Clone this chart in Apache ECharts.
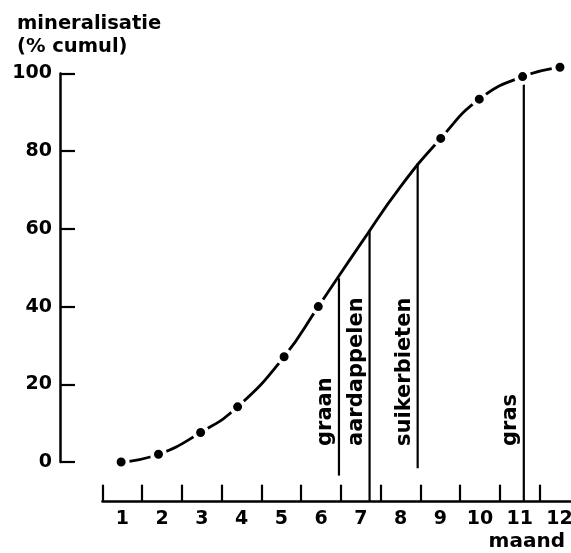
<!DOCTYPE html>
<html>
<head>
<meta charset="utf-8">
<script src="https://cdn.jsdelivr.net/npm/echarts@6/dist/echarts.min.js"></script>
<style>
  html, body { margin: 0; padding: 0; background: #fff; overflow: hidden; }
  /* iets breder dan het venster: maand 12 loopt door tot voorbij de rand */
  #myChart { width: 580px; height: 553px; }
</style>
</head>
<body>
<div id="myChart"></div>
<script>
// maanden op de x-as
var maanden = ['1', '2', '3', '4', '5', '6', '7', '8', '9', '10', '11', '12'];
// gemeten punten (positie in maanden zoals getekend, % cumul)
var puntMaand = [0.97, 1.91, 2.97, 3.9, 5.07, 5.93, 9.01, 9.98, 11.07, 12.01];
var puntWaarde = [0, 2, 7.6, 14.2, 27.1, 40, 83.3, 93.4, 99.2, 101.6];
// curve tussen 6 en 9 zonder stip
var curveMaand = [7, 8];
var curveWaarde = [56.2, 70.9];
// oogstmomenten van de gewassen
var gewassen = ['graan', 'aardappelen', 'suikerbieten', 'gras'];
var oogstMaand = [6.45, 7.22, 8.43, 11.1];
var oogstTop = [47.3, 59.7, 76.9, 98];
var oogstBodem = [-3.5, -10.2, -1.6, -10.2];

var font = '"DejaVu Sans", sans-serif';

// lijn door alle punten, gesorteerd op maand
var curveData = [];
for (var i = 0; i < puntMaand.length; i++) {
    curveData.push({ value: [puntMaand[i], puntWaarde[i]] });
}
for (var j = 0; j < curveMaand.length; j++) {
    curveData.push({ value: [curveMaand[j], curveWaarde[j]], symbol: 'none' });
}
curveData.sort(function (a, b) { return a.value[0] - b.value[0]; });

var oogstData = [];
for (var k = 0; k < gewassen.length; k++) {
    oogstData.push([oogstMaand[k], oogstTop[k], oogstBodem[k]]);
}

var myChart = echarts.init(document.getElementById('myChart'));
var option = {
    animation: false,
    title: [
        {
            text: 'mineralisatie\n(% cumul)',
            left: 12, top: 7,
            textStyle: { fontFamily: font, fontSize: 19.5, fontWeight: 'bold', color: '#000', lineHeight: 23 }
        },
        {
            text: 'maand',
            right: 10, top: 527,
            textStyle: { fontFamily: font, fontSize: 20, fontWeight: 'bold', color: '#000' }
        }
    ],
    grid: { left: 102.45, right: 0.55, top: 73.5, bottom: 91 },
    xAxis: [
        {
            type: 'category',
            data: maanden,
            boundaryGap: true,
            offset: 39.7,
            axisLine: { show: true, onZero: false, lineStyle: { color: '#000', width: 2.5 } },
            axisTick: { show: true, interval: 0, inside: true, length: 17, lineStyle: { color: '#000', width: 2.2 } },
            axisLabel: { color: '#000', fontFamily: font, fontSize: 19, fontWeight: 'bold', margin: 8, interval: 0 },
            splitLine: { show: false }
        },
        {
            type: 'value',
            min: 0.5,
            max: 12.5,
            show: false
        }
    ],
    yAxis: {
        type: 'value',
        min: 0,
        max: 100,
        interval: 20,
        offset: 42.45,
        axisLine: { show: true, onZero: false, lineStyle: { color: '#000', width: 2.5 } },
        axisTick: { show: true, inside: true, length: 15, lineStyle: { color: '#000', width: 2.2 } },
        axisLabel: { color: '#000', fontFamily: font, fontSize: 19, fontWeight: 'bold', margin: 8 },
        splitLine: { show: false }
    },
    series: [
        {
            // verticale lijnen met gewasnaam
            type: 'custom',
            xAxisIndex: 1,
            clip: false,
            z: 1,
            data: oogstData,
            renderItem: function (params, api) {
                var top = api.coord([api.value(0), api.value(1)]);
                var bot = api.coord([api.value(0), api.value(2)]);
                var nul = api.coord([api.value(0), 0]);
                return {
                    type: 'group',
                    children: [
                        {
                            type: 'line',
                            shape: { x1: top[0], y1: top[1], x2: bot[0], y2: bot[1] },
                            style: { stroke: '#000', lineWidth: 2.2 }
                        },
                        {
                            type: 'text',
                            x: top[0] - 2.5,
                            y: nul[1] - 16,
                            rotation: Math.PI / 2,
                            style: {
                                text: gewassen[params.dataIndex],
                                font: 'bold 21px ' + font,
                                fill: '#000',
                                align: 'left',
                                verticalAlign: 'bottom'
                            }
                        }
                    ]
                };
            }
        },
        {
            type: 'line',
            xAxisIndex: 1,
            smooth: 0.5,
            clip: false,
            z: 3,
            data: curveData,
            symbol: 'circle',
            symbolSize: 13,
            showAllSymbol: true,
            lineStyle: { color: '#000', width: 2.8 },
            itemStyle: { color: '#000', borderColor: '#fff', borderWidth: 4 }
        }
    ]
};
myChart.setOption(option);
</script>
</body>
</html>
